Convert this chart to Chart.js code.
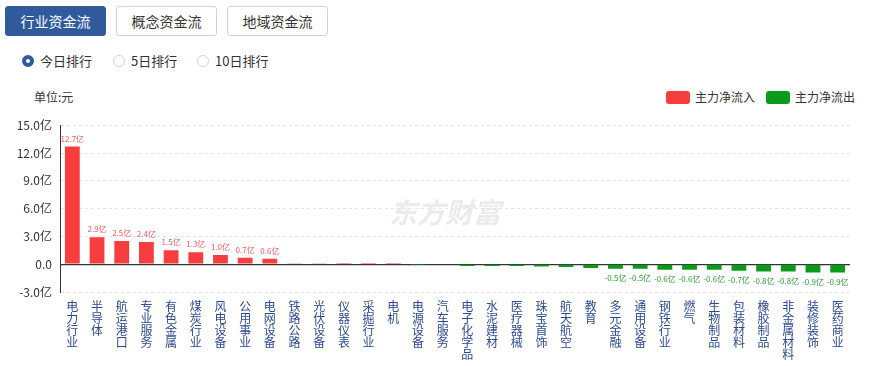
<!DOCTYPE html>
<html>
<head>
<meta charset="utf-8">
<script src="https://cdn.jsdelivr.net/npm/chart.js@4"></script>
<style>
  body { margin: 0; width: 875px; height: 366px; background: #fff; font-family: "Noto Sans CJK SC", "Noto Sans", sans-serif; position: relative; overflow: hidden; }
  .tab { position: absolute; top: 6px; width: 99px; height: 28px; border: 1px solid #c9d3e3; border-radius: 3px; font-size: 14px; line-height: 28px; text-align: center; color: #333; background: #fff; }
  .tab.on { background: #2f5a9c; color: #fff; border-color: #2f5a9c; }
  .radio { position: absolute; top: 52px; font-size: 13px; color: #333; line-height: 18px; }
  .radio i { display: inline-block; width: 10px; height: 10px; border: 1px solid #ccd4df; border-radius: 50%; vertical-align: -1px; margin-right: 6px; }
  .radio.on i { border: 4px solid #2f5a9c; width: 4px; height: 4px; }
  .unit { position: absolute; left: 34px; top: 88px; font-size: 12px; color: #333; }
  .lg { position: absolute; top: 89px; font-size: 12px; color: #333; line-height: 16px; }
  .lg b { display: inline-block; width: 24px; height: 13px; border-radius: 3px; vertical-align: -2px; margin-right: 5px; }
  #wrap { position: absolute; left: 0; top: 110px; width: 875px; height: 256px; }
</style>
</head>
<body>
<div class="tab on" style="left:5px">行业资金流</div>
<div class="tab" style="left:116px">概念资金流</div>
<div class="tab" style="left:227px">地域资金流</div>
<div class="radio on" style="left:22px"><i></i>今日排行</div>
<div class="radio" style="left:113px"><i></i>5日排行</div>
<div class="radio" style="left:197px"><i></i>10日排行</div>
<div class="unit">单位:元</div>
<div class="lg" style="left:666px"><b style="background:#f73d3d"></b>主力净流入</div>
<div class="lg" style="left:766px"><b style="background:#0c9a1c"></b>主力净流出</div>
<div id="wrap"><canvas id="stage"></canvas></div>
<script>
// 行业名称
const industries = ['电力行业','半导体','航运港口','专业服务','有色金属','煤炭行业','风电设备','公用事业','电网设备','铁路公路',
  '光伏设备','仪器仪表','采掘行业','电机','电源设备','汽车服务','电子化学品','水泥建材','医疗器械','珠宝首饰',
  '航天航空','教育','多元金融','通用设备','钢铁行业','燃气','生物制品','包装材料','橡胶制品','非金属材料','装修装饰','医药商业'];
// 主力净流入 (亿)
const netFlow = [12.7, 2.9, 2.5, 2.4, 1.5, 1.3, 1.0, 0.7, 0.6, 0.1,
  0.05, 0.02, 0.01, 0.01, -0.01, -0.05, -0.2, -0.2, -0.2, -0.25,
  -0.3, -0.4, -0.5, -0.5, -0.6, -0.6, -0.6, -0.7, -0.8, -0.8, -0.9, -0.9];
const yTicks = [-3, 0, 3, 6, 9, 12, 15];

const upColor = '#f73d3d';
const downColor = '#0c9a1c';

// 数值标签 + 水印
const valueLabels = {
  id: 'valueLabels',
  beforeDraw(chart) {
    const c = chart.ctx, a = chart.chartArea;
    c.save();
    c.fillStyle = 'rgba(190,190,190,0.3)';
    c.font = 'italic bold 28px "Noto Sans CJK SC"';
    c.textAlign = 'center';
    c.textBaseline = 'middle';
    c.fillText('东方财富', (a.left + a.right) / 2 - 10, a.top + 87);
    c.restore();
  },
  afterDatasetsDraw(chart) {
    const c = chart.ctx;
    const meta = chart.getDatasetMeta(0);
    c.save();
    c.font = '8px "Noto Sans CJK SC"';
    c.textAlign = 'center';
    meta.data.forEach((bar, i) => {
      const v = netFlow[i];
      if (Math.abs(v) < 0.5) return;
      if (v > 0) {
        c.fillStyle = '#f05a5a';
        c.textBaseline = 'bottom';
        c.fillText(v.toFixed(1) + '亿', bar.x, bar.y - 4);
      } else {
        c.fillStyle = '#2a9a34';
        c.textBaseline = 'top';
        c.fillText(v.toFixed(1) + '亿', bar.x, bar.y + 5);
      }
    });
    c.restore();
  }
};

new Chart(document.getElementById('stage'), {
  type: 'bar',
  data: {
    labels: industries.map(s => s.split('')),
    datasets: [{
      data: netFlow,
      backgroundColor: netFlow.map(v => v >= 0 ? upColor : downColor),
      barPercentage: 0.6,
      categoryPercentage: 1.0
    }]
  },
  options: {
    responsive: true,
    maintainAspectRatio: false,
    animation: false,
    layout: { padding: { top: 15, right: 25, left: 0, bottom: 0 } },
    plugins: { legend: { display: false }, tooltip: { enabled: false } },
    scales: {
      x: {
        grid: { display: false, drawTicks: false },
        border: { display: false },
        ticks: {
          color: '#2b4a8f',
          font: { size: 12, family: '"Noto Sans CJK SC"', lineHeight: 1.0 },
          padding: 8,
          maxRotation: 0,
          autoSkip: false
        },
        afterFit(scale) { scale.height = 74; }
      },
      y: {
        min: -3,
        max: 15,
        afterBuildTicks(scale) { scale.ticks = yTicks.map(v => ({ value: v })); },
        grid: {
          color: ctx => ctx.tick && ctx.tick.value === 0 ? '#333' : '#e4e4e4',
          lineWidth: ctx => ctx.tick && ctx.tick.value === 0 ? 1.2 : 1,
          drawTicks: false
        },
        border: {
          color: '#333',
          dash: ctx => ctx.tick && ctx.tick.value === 0 ? [] : [3, 3]
        },
        ticks: {
          color: '#333',
          font: { size: 12, family: '"Noto Sans CJK SC"' },
          padding: 8,
          callback: v => v === 0 ? '0.0' : v.toFixed(1) + '亿'
        },
        afterFit(scale) { scale.width = 60; }
      }
    }
  },
  plugins: [valueLabels]
});
</script>
</body>
</html>
